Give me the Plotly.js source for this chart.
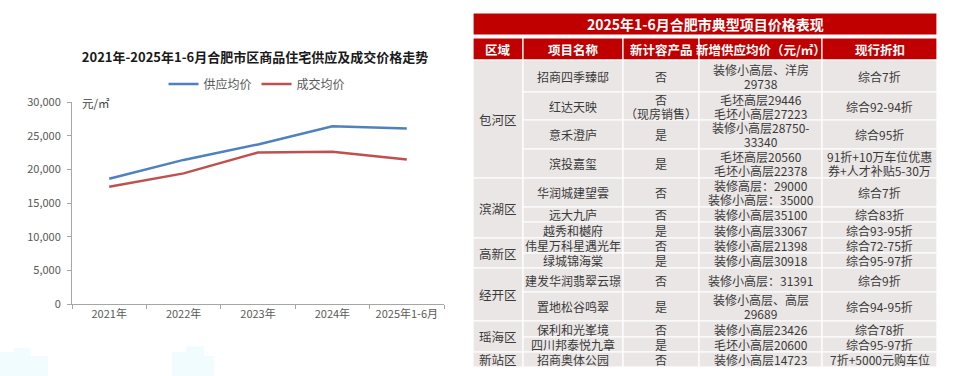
<!DOCTYPE html>
<html><head><meta charset="utf-8">
<script src="https://cdn.plot.ly/plotly-3.0.1.min.js"></script>
<style>html,body{margin:0;padding:0;background:#fff;}#chart{width:960px;height:376px;}</style>
</head><body><div id="chart"></div>
<script>
// ---- line chart data ----
const years = ["2021年","2022年","2023年","2024年","2025年1-6月"];
const supplyAvg = [18600, 21400, 23700, 26400, 26050];
const dealAvg = [17400, 19400, 22500, 22600, 21450];

// ---- table data ----
const tableTitle = "2025年1-6月合肥市典型项目价格表现";
const headers = ["区域","项目名称","新计容产品","新增供应均价（元/㎡）","现行折扣"];
const districts = ["包河区","滨湖区","高新区","经开区","瑶海区","新站区"];
const districtRowCounts = [4, 3, 2, 2, 2, 1];
const projects = ["招商四季臻邸","红达天映","意禾澄庐","滨投嘉玺","华润城建望雲","远大九庐","越秀和樾府","伟星万科星遇光年","绿城锦海棠","建发华润翡翠云璟","置地松谷鸣翠","保利和光峯境","四川邦泰悦九章","招商奥体公园"];
const newProduct = ["否","否<br>（现房销售）","是","是","否","否","是","否","是","否","是","否","是","否"];
const supplyPrice = ["装修小高层、洋房<br>29738","毛坯高层29446<br>毛坯小高层27223","装修小高层28750-<br>33340","毛坯高层20560<br>毛坯小高层22378","装修高层：29000<br>装修小高层：35000","装修小高层35100","装修小高层33067","装修小高层21398","装修小高层30918","装修小高层：31391","装修小高层、高层<br>29689","装修小高层23426","毛坯小高层20600","装修小高层14723"];
const discounts = ["综合7折","综合92-94折","综合95折","91折+10万车位优惠<br>券+人才补贴5-30万","综合7折","综合83折","综合93-95折","综合72-75折","综合95-97折","综合9折","综合94-95折","综合78折","综合95-97折","7折+5000元购车位"];

// ---- table geometry (layout, pixel units on the table axes) ----
const tblX0 = 473;
const colWidths = [50, 100, 76, 123, 115];
const titleTop = 13, titleH = 22, headTop = 38, headH = 22, bodyTop = 60;
const rowHeights = [32, 28, 29, 29, 29, 15, 16, 15, 15, 24, 29, 16, 15, 15];
const lineStep = 14;

const FONT = '"Noto Sans CJK SC", "Noto Sans", sans-serif';
const RED = '#C00000', BODY = '#EBE6E6', TXT = '#3A3A3A';

const colEdges = [tblX0];
colWidths.forEach(w => colEdges.push(colEdges[colEdges.length-1] + w));
const rowEdges = [bodyTop];
rowHeights.forEach(h => rowEdges.push(rowEdges[rowEdges.length-1] + h));
const tblX1 = colEdges[colEdges.length-1];

const shapes = [];
const annotations = [];
function cell(x0, x1, y0, y1, fill, text, font) {
  shapes.push({type:'rect', xref:'x2', yref:'y2', x0, x1, y0, y1,
    fillcolor: fill, line:{color:'#FFFFFF', width:1.2}, layer:'below'});
  if (text === undefined) return;
  const lines = text.split('<br>');
  const yc = (y0+y1)/2;
  lines.forEach((ln, i) => {
    annotations.push({xref:'x2', yref:'y2', x:(x0+x1)/2, y: yc + (i - (lines.length-1)/2) * lineStep,
      text: ln, showarrow:false, font, align:'center', xanchor:'center', yanchor:'middle'});
  });
}
// title row
cell(tblX0, tblX1, titleTop, titleTop+titleH, RED, '<b>'+tableTitle+'</b>', {family:FONT, size:14, color:'#FFFFFF'});
// header row
headers.forEach((h, i) => cell(colEdges[i], colEdges[i+1], headTop, headTop+headH, RED, '<b>'+h+'</b>', {family:FONT, size:12.5, color:'#FFFFFF'}));
// district merged cells
let r = 0;
const bodyFont = {family:FONT, size:12, color:TXT};
districts.forEach((d, i) => {
  const n = districtRowCounts[i];
  cell(colEdges[0], colEdges[1], rowEdges[r], rowEdges[r+n], BODY, d, {family:FONT, size:12.5, color:TXT});
  r += n;
});
// body rows
const cols = [projects, newProduct, supplyPrice, discounts];
projects.forEach((p, ri) => {
  cols.forEach((arr, ci) => {
    cell(colEdges[ci+1], colEdges[ci+2], rowEdges[ri], rowEdges[ri+1], BODY, arr[ri], bodyFont);
  });
});

// unit label
annotations.push({xref:'paper', yref:'paper', x:80/960, y:1-103/376, text:'元/㎡', showarrow:false,
  xanchor:'left', yanchor:'middle', font:{family:FONT, size:11.5, color:'#404040'}});

// faint background decorations (buildings)
const deco = [[0,352,14,376],[14,348,30,376],[30,356,48,376],[172,352,186,376],[186,346,204,376],[204,356,214,376]];
deco.forEach(d => shapes.push({type:'rect', xref:'paper', yref:'paper', x0:d[0]/960, x1:d[2]/960,
  y0:1-d[3]/376, y1:1-d[1]/376, fillcolor:'#F1FCFE', line:{width:0}, layer:'below'}));

const traces = [
  {x: years, y: supplyAvg, name:'供应均价', type:'scatter', mode:'lines', line:{color:'#4F81BD', width:2.5}, xaxis:'x', yaxis:'y', hoverinfo:'skip'},
  {x: years, y: dealAvg, name:'成交均价', type:'scatter', mode:'lines', line:{color:'#C0504D', width:2.5}, xaxis:'x', yaxis:'y', hoverinfo:'skip'},
  {x:[0], y:[0], type:'scatter', mode:'markers', marker:{opacity:0}, xaxis:'x2', yaxis:'y2', showlegend:false, hoverinfo:'skip'}
];

const layout = {
  width:960, height:376, margin:{l:0, r:0, t:0, b:0},
  paper_bgcolor:'#FFFFFF', plot_bgcolor:'rgba(0,0,0,0)',
  font:{family:FONT, color:'#595959'},
  title:{text:'<b>2021年-2025年1-6月合肥市区商品住宅供应及成交价格走势</b>', x:255/960, xanchor:'center',
    y:1-57/376, yanchor:'middle', font:{family:FONT, size:13, color:'#1A1A1A'}},
  showlegend:true,
  legend:{orientation:'h', x:257/960, xanchor:'center', y:1-84/376, yanchor:'middle',
    font:{family:FONT, size:12, color:'#595959'}, bgcolor:'rgba(0,0,0,0)', itemwidth:30, tracegroupgap:0},
  xaxis:{domain:[72/960, 444/960], type:'category', range:[-0.5, 4.5], tickson:'boundaries',
    ticks:'outside', ticklen:4, tickcolor:'#A6A6A6', showline:true, linecolor:'#A6A6A6', linewidth:1,
    showgrid:false, zeroline:false, tickfont:{family:FONT, size:11, color:'#595959'}, fixedrange:true, anchor:'y'},
  yaxis:{domain:[1-304/376, 1-102/376], range:[0, 30000], dtick:5000, tickformat:',d',
    ticks:'outside', ticklen:4, tickcolor:'#A6A6A6', showline:true, linecolor:'#A6A6A6', linewidth:1,
    showgrid:false, zeroline:false, tickfont:{family:FONT, size:11, color:'#595959'}, ticklabelstandoff:4, fixedrange:true, anchor:'x'},
  xaxis2:{domain:[0,1], range:[0,960], visible:false, anchor:'y2', fixedrange:true},
  yaxis2:{domain:[0,1], range:[376,0], visible:false, anchor:'x2', fixedrange:true},
  shapes, annotations
};
Plotly.newPlot('chart', traces, layout, {displayModeBar:false, staticPlot:true});
</script></body></html>
